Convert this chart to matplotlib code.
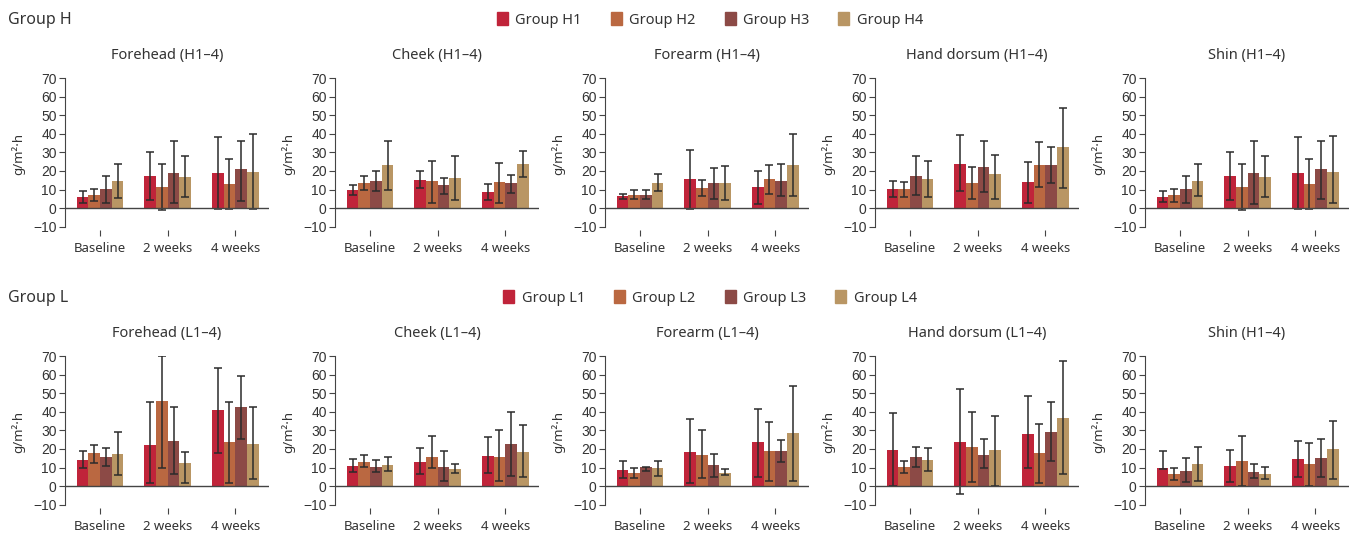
import numpy as np
import matplotlib
matplotlib.use("Agg")
import matplotlib.pyplot as plt
from matplotlib.patches import Patch

plt.rcParams['font.family'] = ['Noto Sans', 'DejaVu Sans']

categories = ["Baseline", "2 weeks", "4 weeks"]
colors = ["#C0243A", "#BA6841", "#8C4A46", "#B99664"]
h_groups = ["Group H1", "Group H2", "Group H3", "Group H4"]
l_groups = ["Group L1", "Group L2", "Group L3", "Group L4"]

# rows = time points, columns = group 1..4 ; mean, lower and upper end of error bar
h_forehead = [[6, 7, 10.5, 14.5], [17.2, 11.3, 19, 16.8], [19, 13, 21, 19.5]]
h_forehead_lo = [[3, 4, 3, 5.5], [4.5, -1, 2.5, 6], [-0.5, -0.5, 4, -0.5]]
h_forehead_hi = [[9, 10.5, 17.5, 23.5], [30, 23.5, 36, 27.8], [38.5, 26.5, 36, 40]]

h_cheek = [[9.7, 13.5, 14.5, 23], [15, 14.5, 12.3, 16.3], [8.7, 14, 13.5, 23.5]]
h_cheek_lo = [[7, 9.5, 9, 9.5], [11, 3, 7.5, 4.5], [4.5, 3, 8, 16.5]]
h_cheek_hi = [[12.5, 17.5, 20, 36], [20, 25.5, 16, 28], [13, 24.5, 18, 30.5]]

h_forearm = [[6.5, 7, 7, 13.5], [15.7, 10.8, 13.5, 13.5], [11.3, 15.7, 14.7, 23.2]]
h_forearm_lo = [[5, 5, 5, 9], [-0.5, 6.5, 5, 4.5], [2, 7.5, 6.5, 6.5]]
h_forearm_hi = [[7.5, 10, 9.5, 18.5], [31.5, 15, 21.5, 22.5], [20, 23, 24, 40]]

h_hand = [[10.3, 10.3, 17.3, 15.7], [23.8, 13.5, 22.2, 18.5], [14, 23.2, 23.2, 32.8]]
h_hand_lo = [[6, 6, 7, 6], [9, 5, 8.5, 5], [3, 11.5, 13.5, 11]]
h_hand_hi = [[14.5, 14, 28, 25.5], [39.5, 22, 36, 28.5], [25, 35.5, 33, 54]]

h_shin = [[6, 7, 10.2, 14.5], [17.2, 11.3, 19, 16.8], [19, 13, 21, 19.5]]
h_shin_lo = [[3.5, 3.5, 3, 6.5], [4.5, -1, 2, 6], [-0.5, -0.5, 5, 2.5]]
h_shin_hi = [[9, 10.5, 17.5, 24], [30, 23.5, 36, 28], [38.5, 26.5, 36, 39]]

l_forehead = [[14.2, 18, 15.8, 17.5], [22.3, 46, 24.5, 12.5], [41, 24, 42.3, 22.8]]
l_forehead_lo = [[9.5, 12.5, 11, 6], [1.5, 10, 6.5, 1.5], [18, 1.5, 25.5, 4]]
l_forehead_hi = [[19, 22, 20.5, 29], [45, 70, 42.5, 18.5], [63.5, 45, 59, 42.3]]

l_cheek = [[11, 13, 10.5, 11.5], [13, 15.8, 10.5, 9.3], [16.3, 15.8, 22.8, 18.5]]
l_cheek_lo = [[7.5, 10.5, 7.5, 8], [6.5, 10, 3, 7], [7.3, 3, 5.5, 5]]
l_cheek_hi = [[14.5, 16.8, 14, 15.5], [20.3, 27.2, 18.7, 12], [26.3, 30, 39.7, 32.7]]

l_forearm = [[8.8, 6.8, 10.3, 9.5], [18.5, 17, 11.5, 7.3], [24, 19, 19, 28.8]]
l_forearm_lo = [[4.5, 4.5, 8, 5.5], [1.5, 4.3, 5, 6], [5, 3, 13, 3]]
l_forearm_hi = [[13.3, 10, 10.5, 13.7], [36, 30, 17.3, 9], [41.5, 34.7, 25, 53.8]]

l_hand = [[19.5, 10.5, 15.8, 14.3], [23.8, 21.2, 17, 19.7], [28.3, 18, 29.3, 36.8]]
l_hand_lo = [[0, 7, 10.5, 8], [-4, 2, 9.8, 0], [9.8, 1.5, 13.3, 6.5]]
l_hand_hi = [[39.5, 13.5, 21.2, 20.5], [52.2, 40, 25.5, 37.7], [48.3, 33.3, 45, 67.2]]

l_shin = [[10, 6.7, 8.2, 12], [11, 13.7, 7.7, 6.7], [14.8, 12, 15.3, 20.2]]
l_shin_lo = [[9.3, 3.5, 2, 2.5], [2, 0, 4.5, 4], [5, 0, 5, 3.8]]
l_shin_hi = [[19, 9.7, 15.3, 20.8], [19.5, 27, 12, 10.5], [24.3, 23.3, 25.2, 35]]

top_panels = [
    ("Forehead (H1–4)", h_forehead, h_forehead_lo, h_forehead_hi),
    ("Cheek (H1–4)", h_cheek, h_cheek_lo, h_cheek_hi),
    ("Forearm (H1–4)", h_forearm, h_forearm_lo, h_forearm_hi),
    ("Hand dorsum (H1–4)", h_hand, h_hand_lo, h_hand_hi),
    ("Shin (H1–4)", h_shin, h_shin_lo, h_shin_hi),
]
bottom_panels = [
    ("Forehead (L1–4)", l_forehead, l_forehead_lo, l_forehead_hi),
    ("Cheek (L1–4)", l_cheek, l_cheek_lo, l_cheek_hi),
    ("Forearm (L1–4)", l_forearm, l_forearm_lo, l_forearm_hi),
    ("Hand dorsum (L1–4)", l_hand, l_hand_lo, l_hand_hi),
    ("Shin (H1–4)", l_shin, l_shin_lo, l_shin_hi),
]

fig = plt.figure(figsize=(13.56, 5.35), dpi=100)

W = 1356.0
H = 535.0
axw = 204 / W
lefts = [65 / W, 335 / W, 605 / W, 875 / W, 1145 / W]
row_bottoms = [1 - 229.5 / H, 1 - 507.5 / H]
axh = 151.5 / H

bw = 0.173
x = np.arange(len(categories))


def draw_panel(ax, title, mean, lo, hi):
    mean = np.array(mean)
    lo = np.array(lo)
    hi = np.array(hi)
    for g in range(4):
        pos = x + (g - 1.5) * bw
        m = mean[:, g]
        err = np.vstack([m - lo[:, g], hi[:, g] - m])
        ax.bar(pos, m, width=bw, color=colors[g], zorder=2)
        ax.errorbar(pos, m, yerr=err, fmt='none', ecolor='#2b2b2b',
                    elinewidth=1.1, capsize=2.8, capthick=1.1, zorder=3)
    ax.axhline(0, color='#444444', lw=1.0, zorder=4)
    ax.set_xlim(-0.52, 2.5)
    ax.set_ylim(-11.5, 70)
    ax.set_yticks(np.arange(-10, 71, 10))
    ax.set_yticklabels(["−10"] + [str(v) for v in range(0, 71, 10)],
                       family=['Liberation Sans', 'DejaVu Sans'], fontsize=10, color='#333333')
    ax.set_xticks(x)
    ax.set_xticklabels(categories, fontsize=9.5, color='#333333')
    for s in ['top', 'right', 'bottom']:
        ax.spines[s].set_visible(False)
    ax.spines['left'].set_bounds(-10, 70)
    ax.spines['left'].set_color('#444444')
    ax.tick_params(axis='y', length=4, color='#444444', pad=2)
    ax.tick_params(axis='x', length=4, color='#444444', pad=5)
    ax.set_ylabel("g/m²·h", fontsize=9.5, color='#333333', labelpad=6)
    ax.set_title(title, fontsize=10.5, color='#333333', pad=14)
    ax.set_facecolor('none')


for r, panels in enumerate([top_panels, bottom_panels]):
    for c, (title, mean, lo, hi) in enumerate(panels):
        ax = fig.add_axes([lefts[c], row_bottoms[r], axw, axh])
        draw_panel(ax, title, mean, lo, hi)

fig.text(8 / W, 1 - 20 / H, "Group H", fontsize=11.5, color='#333333', va='center')
fig.text(8 / W, 1 - 298 / H, "Group L", fontsize=11.5, color='#333333', va='center')

for names, yc in [(h_groups, 1 - 20 / H), (l_groups, 1 - 298 / H)]:
    handles = [Patch(color=colors[i], label=names[i]) for i in range(4)]
    fig.legend(handles=handles, loc='center', bbox_to_anchor=(710 / W, yc), ncol=4,
               frameon=False, fontsize=10.5, handlelength=0.75, handleheight=0.9,
               handletextpad=0.5, columnspacing=2.0, labelcolor='#333333')

fig.savefig("out.png", dpi=100)
